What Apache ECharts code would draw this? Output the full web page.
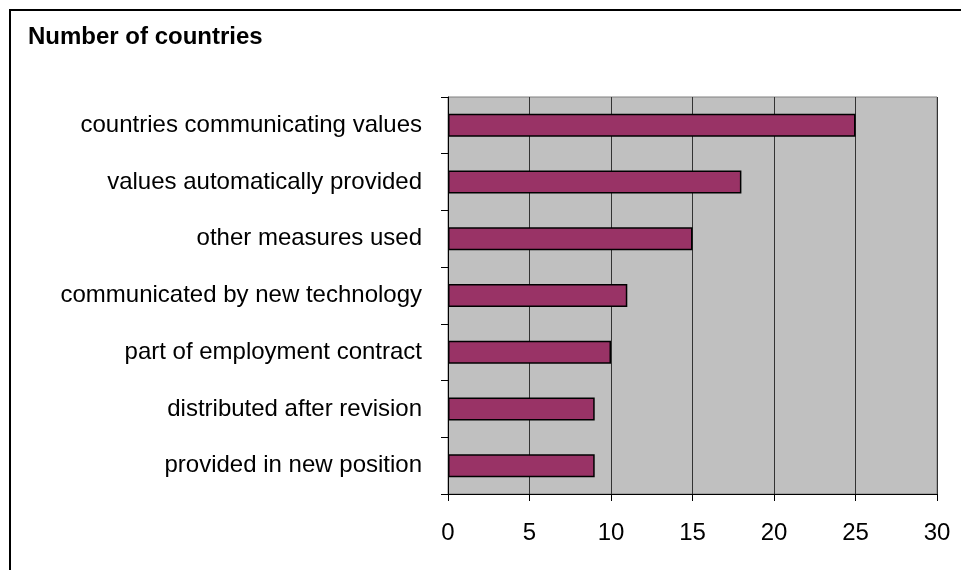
<!DOCTYPE html>
<html>
<head>
<meta charset="utf-8">
<script src="https://cdn.jsdelivr.net/npm/echarts@6/dist/echarts.min.js"></script>
<style>
  html, body { margin: 0; padding: 0; background: #fff; }
  #chart { width: 961px; height: 570px; }
</style>
</head>
<body>
<div id="chart"></div>
<script>
// Survey answers, listed top to bottom
const categories = [
  'countries communicating values',
  'values automatically provided',
  'other measures used',
  'communicated by new technology',
  'part of employment contract',
  'distributed after revision',
  'provided in new position'
];
const countryCounts = [25, 18, 15, 11, 10, 9, 9];
const xTicks = [0, 5, 10, 15, 20, 25, 30];

const FONT = 'Liberation Sans, Arial, sans-serif';

const chart = echarts.init(document.getElementById('chart'), null, { renderer: 'canvas' });

chart.setOption({
  backgroundColor: '#ffffff',
  animation: false,
  title: {
    text: 'Number of countries',
    left: 28,
    top: 25,
    padding: 0,
    textStyle: { fontFamily: FONT, fontSize: 24, fontWeight: 'bold', color: '#000' }
  },
  graphic: [{
    type: 'rect',
    silent: true,
    z: 100,
    shape: { x: 10, y: 10, width: 1000, height: 1000 },
    style: { fill: 'none', stroke: '#000', lineWidth: 2 }
  }],
  grid: {
    left: 448,
    right: 24,
    top: 97,
    bottom: 76,
    show: true,
    backgroundColor: '#c0c0c0',
    borderColor: '#808080',
    borderWidth: 1
  },
  xAxis: {
    type: 'value',
    min: xTicks[0],
    max: xTicks[xTicks.length - 1],
    interval: xTicks[1] - xTicks[0],
    axisLine: { show: true, lineStyle: { color: '#000', width: 1 } },
    axisTick: { show: true, length: 7, lineStyle: { color: '#000' } },
    axisLabel: { fontFamily: FONT, fontSize: 24, color: '#000', margin: 27 },
    splitLine: { show: true, lineStyle: { color: '#333', width: 1 } }
  },
  yAxis: {
    type: 'category',
    data: categories,
    inverse: true,
    axisLine: { show: true, lineStyle: { color: '#000', width: 1 } },
    axisTick: { show: true, length: 7, lineStyle: { color: '#000' } },
    axisLabel: { fontFamily: FONT, fontSize: 24, color: '#000', margin: 26 },
    splitLine: { show: false }
  },
  series: [{
    type: 'bar',
    data: countryCounts,
    barWidth: 23,
    itemStyle: { color: '#993366', borderColor: '#000', borderWidth: 1.5 }
  }]
});
</script>
</body>
</html>
